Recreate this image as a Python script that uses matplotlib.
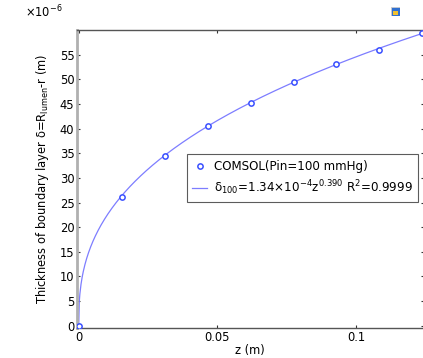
import matplotlib
matplotlib.use("Agg")
import matplotlib.pyplot as plt
import numpy as np
from matplotlib.ticker import FuncFormatter, FixedLocator

plt.rcParams['font.family'] = ['DejaVu Sans']
plt.rcParams['mathtext.default'] = 'regular'

# COMSOL boundary-layer thickness samples along the vessel (Pin = 100 mmHg)
z_pts = [0.0, 0.0155, 0.031, 0.0465, 0.062, 0.0775, 0.093, 0.1085, 0.124]
delta_pts = [0.0, 26.2e-6, 34.5e-6, 40.6e-6, 45.2e-6, 49.5e-6, 53.1e-6, 56.0e-6, 59.4e-6]

# Power-law fit: delta = a * z^b
fit_a = 1.34e-4
fit_b = 0.390
fit_r2 = 0.9999

x_ticks = [0, 0.05, 0.1]
x_tick_labels = ['0', '0.05', '0.1']
y_ticks_um = [0, 5, 10, 15, 20, 25, 30, 35, 40, 45, 50, 55]

W, H = 423, 358
fig = plt.figure(figsize=(W / 100, H / 100), dpi=100)
left, right, top, bottom = 76.5, 423.8, 30.0, 328.3
ax = fig.add_axes([left / W, (H - bottom) / H, (right - left) / W, (bottom - top) / H])

z_fit = np.linspace(0, z_pts[-1], 600)
ax.plot(z_fit, fit_a * z_fit ** fit_b, color='#7d7dff', lw=0.9,
        label=r'$\delta_{100}$=1.34$\times$10$^{-4}$z$^{0.390}$ R$^{2}$=0.9999', zorder=2)
ax.plot(z_pts, delta_pts, linestyle='none', marker='o', markersize=3.8,
        markerfacecolor='white', markeredgecolor='#3a50ff', markeredgewidth=1.1,
        label='COMSOL(Pin=100 mmHg)', zorder=3)

ax.set_xlim(-0.0008, 0.1245)
ax.set_ylim(-0.53e-6, 60.05e-6)

ax.xaxis.set_major_locator(FixedLocator(x_ticks))
ax.set_xticklabels(x_tick_labels)
ax.yaxis.set_major_locator(FixedLocator([v * 1e-6 for v in y_ticks_um]))
ax.yaxis.set_major_formatter(FuncFormatter(lambda v, p: f'{v * 1e6:.0f}'))

ax.tick_params(axis='both', which='major', direction='in', length=2.5, width=0.8,
               color='#333333', labelsize=8.3, pad=2,
               top=True, right=True)
ax.tick_params(axis='y', pad=1.5)

for s in ['top', 'bottom']:
    ax.spines[s].set_color('#555555')
    ax.spines[s].set_linewidth(1.0)
ax.spines['left'].set_color('#b0b0b0')
ax.spines['left'].set_linewidth(2.0)
ax.spines['right'].set_visible(False)

ax.set_xlabel('z (m)', fontsize=8.3, labelpad=0)
ax.set_ylabel(r'Thickness of boundary layer δ=R$_{lumen}$-r (m)', fontsize=8.3, labelpad=6)

fig.text(25 / W, 1 - 11.5 / H, r'$\times$10$^{-6}$', fontsize=8.3, va='center', ha='left')

handles, labels = ax.get_legend_handles_labels()
leg = ax.legend(handles[::-1], labels[::-1], loc='upper left',
                bbox_to_anchor=(0.318, 0.583), fontsize=8.6, frameon=True,
                fancybox=False, shadow=False, borderpad=0.45, labelspacing=0.45,
                handlelength=1.25, handletextpad=0.55, borderaxespad=0)
leg.get_frame().set_edgecolor('#333333')
leg.get_frame().set_linewidth(0.8)

# small toolbar icon in the corner
ax_icon = fig.add_axes([391 / W, 1 - 16 / H, 9 / W, 9 / H])
ax_icon.add_patch(plt.Rectangle((0, 0), 1, 1, facecolor='#3070d0', edgecolor='#cccccc', lw=0.6))
ax_icon.add_patch(plt.Rectangle((0.2, 0.15), 0.6, 0.45, facecolor='#f0c030', edgecolor='none'))
ax_icon.set_xlim(0, 1)
ax_icon.set_ylim(0, 1)
ax_icon.axis('off')

fig.savefig('out.png', dpi=100)
